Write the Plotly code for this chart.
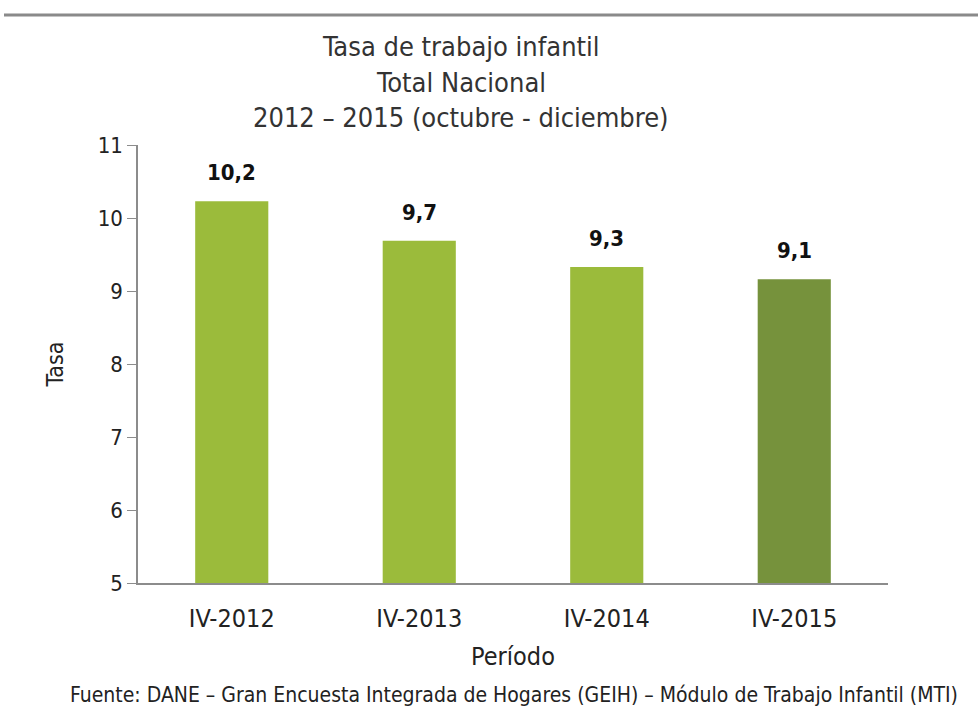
import plotly.graph_objects as go

categories = ["IV-2012", "IV-2013", "IV-2014", "IV-2015"]
values = [10.23, 9.69, 9.33, 9.16]
labels = ["10,2", "9,7", "9,3", "9,1"]
colors = ["#9BBB3B", "#9BBB3B", "#9BBB3B", "#76923C"]

W, H = 978, 709
L, R, T, B = 138, 90, 145, 126
pw = W - L - R
ph = H - T - B

def px(x):
    return (x - L) / pw

def py(y):
    return (H - B - y) / ph

font_main = "DejaVu Sans Condensed, DejaVu Sans, sans-serif"

fig = go.Figure(go.Bar(
    x=categories, y=values, marker_color=colors, marker_line_width=0,
    cliponaxis=False, width=0.39, hoverinfo="x+y",
))

annotations = [
    dict(x=c, y=v, xref="x", yref="y", text="<b>%s</b>" % t, showarrow=False,
         xanchor="center", yanchor="bottom", yshift=14,
         font=dict(family=font_main, size=22, color="#111111"))
    for c, v, t in zip(categories, values, labels)
]

title_lines = ["Tasa de trabajo infantil", "Total Nacional", "2012 – 2015 (octubre - diciembre)"]
title_y = [46, 82, 118]
for line, yy in zip(title_lines, title_y):
    annotations.append(dict(text=line, xref="paper", yref="paper", x=px(461), y=py(yy),
                            showarrow=False, xanchor="center", yanchor="middle",
                            font=dict(size=27, color="#333333")))

annotations.append(dict(
    text="Fuente: DANE – Gran Encuesta Integrada de Hogares (GEIH) – Módulo de Trabajo Infantil (MTI)",
    xref="paper", yref="paper", x=px(514), y=py(695), showarrow=False,
    xanchor="center", yanchor="middle", font=dict(size=21, color="#222222")))

fig.update_layout(
    width=W, height=H,
    margin=dict(l=L, r=R, t=T, b=B),
    paper_bgcolor="white", plot_bgcolor="white",
    showlegend=False,
    font=dict(family=font_main, color="#222222"),
    xaxis=dict(showline=True, linecolor="#8c8c8c", linewidth=1.5, ticks="",
               showgrid=False, tickfont=dict(size=25, color="#222222"),
               ticklabelstandoff=12,
               title=dict(text="Período", font=dict(size=25), standoff=16)),
    yaxis=dict(range=[5, 11], dtick=1, showline=True, linecolor="#8c8c8c", linewidth=1.5,
               ticks="outside", ticklen=9, tickcolor="#8c8c8c", showgrid=False,
               zeroline=False, tickfont=dict(size=22, color="#222222"),
               title=dict(text="Tasa", font=dict(size=23), standoff=28)),
    shapes=[dict(type="line", xref="paper", yref="paper", x0=px(4), x1=px(978),
                 y0=py(15), y1=py(15), line=dict(color="#8a8a8a", width=3))],
    annotations=annotations,
)

fig.write_html("out.html", config={"displayModeBar": False},
               post_script="document.body.style.margin='0';document.body.style.padding='0';")
